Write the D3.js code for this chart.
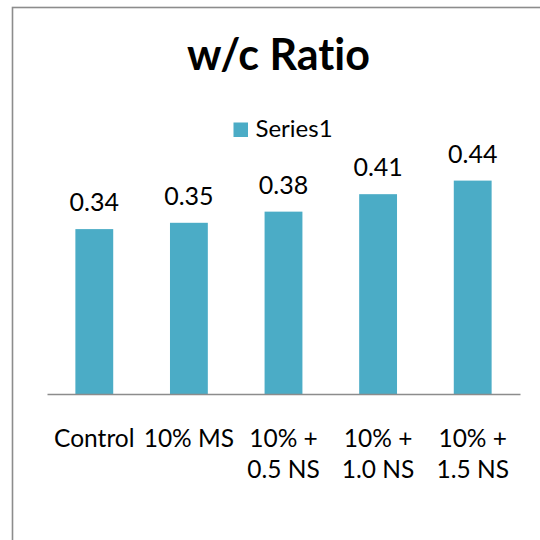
<!DOCTYPE html>
<html><head><meta charset="utf-8">
<script src="https://cdn.jsdelivr.net/npm/d3@7"></script>
<style>html,body{margin:0;padding:0;background:#fff;}svg{display:block;}svg text{font-variant-ligatures:none;font-feature-settings:"liga" 0,"clig" 0;}</style>
</head><body><div id="chart"></div>
<script>
const categories = [["Control"], ["10% MS"], ["10% +", "0.5 NS"], ["10% +", "1.0 NS"], ["10% +", "1.5 NS"]];
const values = [0.34, 0.353, 0.376, 0.412, 0.44];
const seriesName = "Series1";
const title = "w/c Ratio";

const W = 540, H = 540;
const font = "Lato, 'Open Sans', sans-serif";
const svg = d3.select("#chart").append("svg").attr("width", W).attr("height", H);
svg.append("rect").attr("width", W).attr("height", H).attr("fill", "#fff");
svg.append("rect").attr("x", 12.5).attr("y", 7.5).attr("width", 560).attr("height", 560)
  .attr("fill", "none").attr("stroke", "#8c8c8c").attr("stroke-width", 1.6);

const x = d3.scaleBand().domain(d3.range(values.length)).range([47, 520]).paddingInner(0.6).paddingOuter(0.3);
const y = d3.scaleLinear().domain([0, 0.5]).range([394, 151.5]);

svg.append("text").attr("x", 278.5).attr("y", 70).attr("text-anchor", "middle")
  .attr("font-family", font).attr("font-weight", "bold").attr("font-size", 43).attr("fill", "#000").text(title);

const lg = svg.append("g");
lg.append("rect").attr("x", 233.5).attr("y", 122.5).attr("width", 14.5).attr("height", 14.5).attr("fill", "#4BACC6");
lg.append("text").attr("x", 255.5).attr("y", 137).attr("font-family", font).attr("font-size", 24).attr("fill", "#000").text(seriesName);

svg.selectAll("rect.bar").data(values).join("rect").attr("class", "bar")
  .attr("x", (d, i) => x(i)).attr("width", x.bandwidth())
  .attr("y", d => y(d)).attr("height", d => y(0) - y(d)).attr("fill", "#4BACC6");

svg.selectAll("text.val").data(values).join("text").attr("class", "val")
  .attr("x", (d, i) => x(i) + x.bandwidth() / 2).attr("y", d => y(d) - 18)
  .attr("text-anchor", "middle").attr("font-family", font).attr("font-size", 25).attr("fill", "#000")
  .text(d => d3.format(".2f")(d));

const xAxis = d3.axisBottom(x).tickSize(0).tickFormat("");
const ax = svg.append("g").attr("transform", "translate(0,394)").call(xAxis);
ax.select(".domain").attr("stroke", "#8c8c8c").attr("stroke-width", 1.5);

const cl = svg.selectAll("text.cat").data(categories).join("text").attr("class", "cat")
  .attr("text-anchor", "middle").attr("font-family", font).attr("font-size", 24.5).attr("fill", "#000");
cl.selectAll("tspan").data((d, i) => d.map(t => ({t, i}))).join("tspan")
  .attr("x", d => x(d.i) + x.bandwidth() / 2).attr("y", (d, j) => 447 + j * 31).text(d => d.t);
</script></body></html>
